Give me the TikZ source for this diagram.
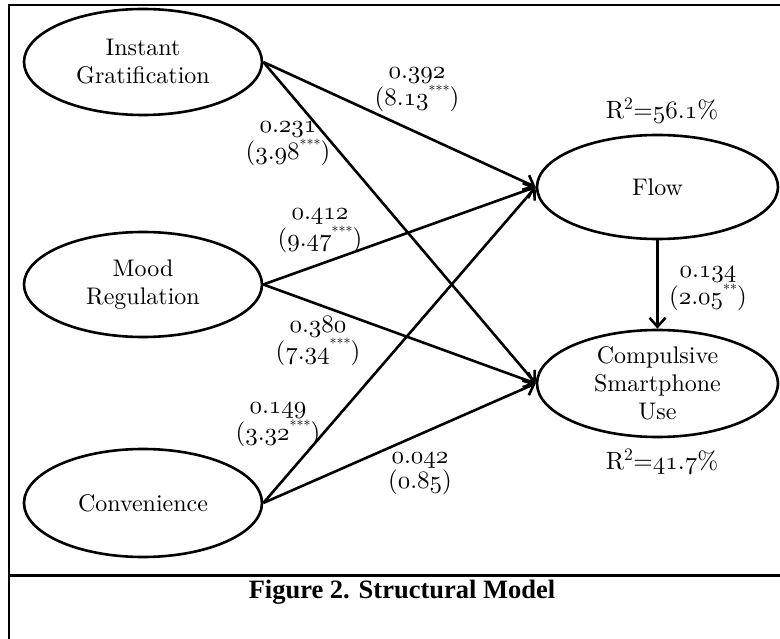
\documentclass[tikz,border=0pt]{standalone}
\usepackage{fontspec}
\newfontfamily\capfont{Liberation Serif}
\newfontfamily\lmf{lmroman10-regular}[Extension=.otf]
\font\osnf=cmmi10 at 25pt
\usetikzlibrary{shapes.geometric,arrows.meta}
\newcommand\osn[1]{{\osnf #1}}
\newcommand\dnum[2]{\osn{#1}.\osn{#2}}
\newcommand\sig[1]{\raisebox{0.42em}{\fontsize{14}{14}\selectfont #1}}
\begin{document}
\begin{tikzpicture}[x=1pt,y=-1pt,
  ell/.style={draw,ellipse,line width=2.6pt,inner sep=0pt,align=center,
    font=\lmf\fontsize{24}{28}\selectfont},
  arr/.style={line width=2.6pt,-{Straight Barb[length=9pt,width=16pt,line width=2.6pt]}},
  lab/.style={align=center,inner sep=0pt,font=\lmf\fontsize{25}{25}\selectfont},
  frame/.style={line width=2pt}]
\useasboundingbox (0,0) rectangle (780,639);
% frame
\coordinate (fbl) at (9,639);
\coordinate (ftl) at (9,5);
\coordinate (ftr) at (780,5);
\coordinate (sl) at (9,575);
\coordinate (sr) at (780,575);
\draw[frame] (fbl) -- (ftl) -- (ftr);
\draw[line width=3pt] (sl) -- (sr);
% nodes
\node[ell,minimum width=238pt,minimum height=106pt] (ig) at (143,62) {Instant\\Gratification};
\node[ell,minimum width=238pt,minimum height=105pt] (mr) at (143,284.5) {Mood\\Regulation};
\node[ell,minimum width=238pt,minimum height=108pt] (cv) at (143,503) {Convenience};
\node[ell,minimum width=241pt,minimum height=104pt] (fl) at (657.5,187) {Flow};
\node[ell,minimum width=241pt,minimum height=107pt] (cs) at (657.5,383.5) {Compulsive\\Smartphone\\Use};
% connectors
\draw[arr] (ig.east) -- (fl.west);
\draw[arr] (ig.east) -- (cs.west);
\draw[arr] (mr.east) -- (fl.west);
\draw[arr] (mr.east) -- (cs.west);
\draw[arr] (cv.east) -- (fl.west);
\draw[arr] (cv.east) -- (cs.west);
\draw[arr] (fl.south) -- (cs.north);
% labels
\node[lab] (l1) at (417,90) {\dnum{0}{392}\\(\dnum{8}{13}\sig{***})};
\node[lab] (l2) at (288,144) {\dnum{0}{231}\\(\dnum{3}{98}\sig{***})};
\node[lab] (l3) at (320,231) {\dnum{0}{412}\\(\dnum{9}{47}\sig{***})};
\node[lab] (l4) at (318,341) {\dnum{0}{380}\\(\dnum{7}{34}\sig{***})};
\node[lab] (l5) at (278,425) {\dnum{0}{149}\\(\dnum{3}{32}\sig{***})};
\node[lab] (l6) at (420,474) {\dnum{0}{042}\\(\dnum{0}{85})};
\node[lab] (l7) at (708,289) {\dnum{0}{134}\\(\dnum{2}{05}\sig{**})};
\node[lab] (r1) at (662,111) {R\textsuperscript{2}=\dnum{56}{1}\%};
\node[lab] (r2) at (662,462) {R\textsuperscript{2}=\dnum{41}{7}\%};
% caption
\node[font=\capfont\bfseries\fontsize{26.5}{30}\selectfont,inner sep=0pt] (cap) at (402,592) {Figure 2. Structural Model};
\end{tikzpicture}
\end{document}
